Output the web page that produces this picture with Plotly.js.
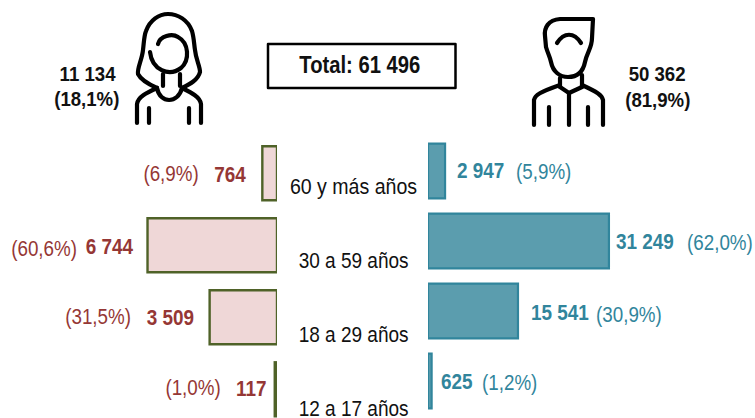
<!DOCTYPE html>
<html><head><meta charset="utf-8">
<script src="https://cdn.plot.ly/plotly-3.0.1.min.js"></script>
<style>html,body{margin:0;padding:0;background:#fff}.shapelayer path{stroke-linecap:round;stroke-linejoin:round}</style>
</head><body><div id="chart" style="width:755px;height:418px"></div>
<script>
const categories = ['60 y más años','30 a 59 años','18 a 29 años','12 a 17 años'];
const mujeres = [764, 6744, 3509, 117];
const hombres = [2947, 31249, 15541, 625];
const mujeresPct = ['(6,9%)','(60,6%)','(31,5%)','(1,0%)'];
const hombresPct = ['(5,9%)','(62,0%)','(30,9%)','(1,2%)'];
const mujeresTotal = ['11 134','(18,1%)'];
const hombresTotal = ['50 362','(81,9%)'];
const totalLabel = 'Total: 61 496';

const W = 755, H = 418;
const fmt = v => String(v).replace(/\B(?=(\d{3})+$)/g, ' ');
const FONT = '"Liberation Sans",Arial,sans-serif';
const RED = '#953735', TEAL = '#31859C';

const traces = [
 {type:'bar',orientation:'h',x:mujeres,y:categories,xaxis:'x',yaxis:'y',width:0.75,
  marker:{color:'#EFD7D7',line:{color:'#4F6228',width:2.4}},hoverinfo:'skip'},
 {type:'bar',orientation:'h',x:hombres,y:categories,xaxis:'x2',yaxis:'y2',width:0.78,
  marker:{color:'#5B9DAE',line:{color:'#31859C',width:2.2}},hoverinfo:'skip'},
 {type:'scatter',x:[],y:[],xaxis:'x3',yaxis:'y3',hoverinfo:'skip'}
];

const squeeze = [];
function lab(text,x,y,color,bold,anchor,size,sx){
 squeeze.push(sx || (bold?0.86:0.855));
 const xshift = anchor==='right' ? 2.5 : anchor==='left' ? -2.5 : 0;
 return {text:bold?'<b>'+text+'</b>':text,x,y,xshift,xref:'x3',yref:'y3',showarrow:false,xanchor:anchor,yanchor:'middle',
  font:{family:FONT,size:size||22,color}};
}
const annotations = [];
const catPos = [[353.5,186],[353,260],[353.5,334],[353.5,408]];
const catSqueeze = [0.89,0.865,0.865,0.865];
const mVal = [[245,174],[133,246],[193,317],[266,388]];
const mPct = [[198,173],[76,248],[130,316],[220,387]];
const hVal = [[457,170],[616,241],[531,312],[441,381]];
const hPct = [[516,171],[687,242],[596,314],[482,382]];
categories.forEach((c,i)=>{
 annotations.push(lab(c,catPos[i][0],catPos[i][1],'#111',false,'center',22,catSqueeze[i]));
 annotations.push(lab(fmt(mujeres[i]),mVal[i][0],mVal[i][1],RED,true,'right'));
 annotations.push(lab(mujeresPct[i],mPct[i][0],mPct[i][1],RED,false,'right'));
 annotations.push(lab(fmt(hombres[i]),hVal[i][0],hVal[i][1],TEAL,true,'left'));
 annotations.push(lab(hombresPct[i],hPct[i][0],hPct[i][1],TEAL,false,'left'));
});
annotations.push(lab(mujeresTotal[0],87,73,'#111',true,'center',21,0.887));
annotations.push(lab(mujeresTotal[1],87,98,'#111',true,'center',21,0.887));
annotations.push(lab(hombresTotal[0],657,73,'#111',true,'center',21,0.887));
annotations.push(lab(hombresTotal[1],658,99,'#111',true,'center',21,0.887));
annotations.push(lab(totalLabel,360,65,'#111',true,'center',23,0.88));

const icon = d => ({type:'path',xref:'x3',yref:'y3',path:d,line:{color:'#000',width:4.2},fillcolor:'rgba(0,0,0,0)',layer:'above'});
const woman = [
 'M 157,88 C 148,84 141,80 138,74 C 137,68 142,60 143,50 C 144,42 144,36 146,31 C 150,20 159,14 168,14 C 178,14 188,20 192,31 C 194,38 194,44 195,50 C 196,60 200,66 200,72 C 198,80 190,84 182,88',
 'M 158,44 C 160,36 172,33 178,37 C 189,43 190,60 181,68 C 169,77 152,70 150,52',
 'M 163,74 L 163,86 M 180,74 L 180,86',
 'M 157,88 C 160,104 178,104 182,88',
 'M 137,123 L 137,104 C 138,97 146,93 157,88',
 'M 201,123 L 201,104 C 200,97 192,93 182,88',
 'M 149,108 L 149,123 M 189,108 L 189,123'
];
const man = [
 'M 593,19 L 560,19 C 548,20 544,28 545,36 L 546,47 C 548,54 550,57 551,62 C 553,72 560,77 568,77 C 578,77 583,72 585,62 C 587,52 592,48 592,38 Z',
 'M 557,43 C 564,32 574,32 581,43',
 'M 560,78 L 560,87 M 582,75 L 582,87',
 'M 560,87 L 569,93 L 582,87',
 'M 534,125 L 534,100 C 535,95 540,92 560,85',
 'M 603,125 L 603,100 C 602,95 597,92 582,85',
 'M 569,93 L 569,125 M 549,107 L 549,125 M 588,107 L 588,125'
];
const shapes = [...woman,...man].map(icon);
shapes.push({type:'rect',xref:'x3',yref:'y3',x0:268,x1:455.5,y0:44,y1:88,line:{color:'#000',width:2.5},fillcolor:'rgba(0,0,0,0)'});

const hidden = {visible:false,fixedrange:true};
const layout = {
 width:W,height:H,margin:{l:0,r:0,t:0,b:0},showlegend:false,paper_bgcolor:'#fff',plot_bgcolor:'rgba(0,0,0,0)',
 xaxis:{...hidden,domain:[0,277/W],range:[277/0.0192,0],anchor:'y'},
 yaxis:{...hidden,domain:[0,1],type:'category',categoryorder:'array',categoryarray:categories,range:[(H-173.3)/72,-173.3/72],anchor:'x'},
 xaxis2:{...hidden,domain:[428/W,1],range:[0,327/0.00579],anchor:'y2'},
 yaxis2:{...hidden,domain:[0,1],type:'category',categoryorder:'array',categoryarray:categories,range:[(H-171)/70,-171/70],anchor:'x2'},
 xaxis3:{...hidden,domain:[0,1],range:[0,W],anchor:'y3'},
 yaxis3:{...hidden,domain:[0,1],range:[H,0],anchor:'x3'},
 annotations,shapes
};
Plotly.newPlot('chart',traces,layout,{displayModeBar:false,staticPlot:true}).then(gd=>{
 // Arial Narrow look: squeeze each label horizontally about its anchor
 gd.querySelectorAll('.annotation').forEach(g=>{
  const i = +g.getAttribute('data-index');
  const t = g.querySelector('text.annotation-text');
  if(!t) return;
  const b = t.getBBox(), a = annotations[i].xanchor;
  const px = a==='right' ? b.x+b.width : a==='left' ? b.x : b.x+b.width/2;
  t.setAttribute('transform',`translate(${px},0) scale(${squeeze[i]},1) translate(${-px},0)`);
 });
});
</script></body></html>
